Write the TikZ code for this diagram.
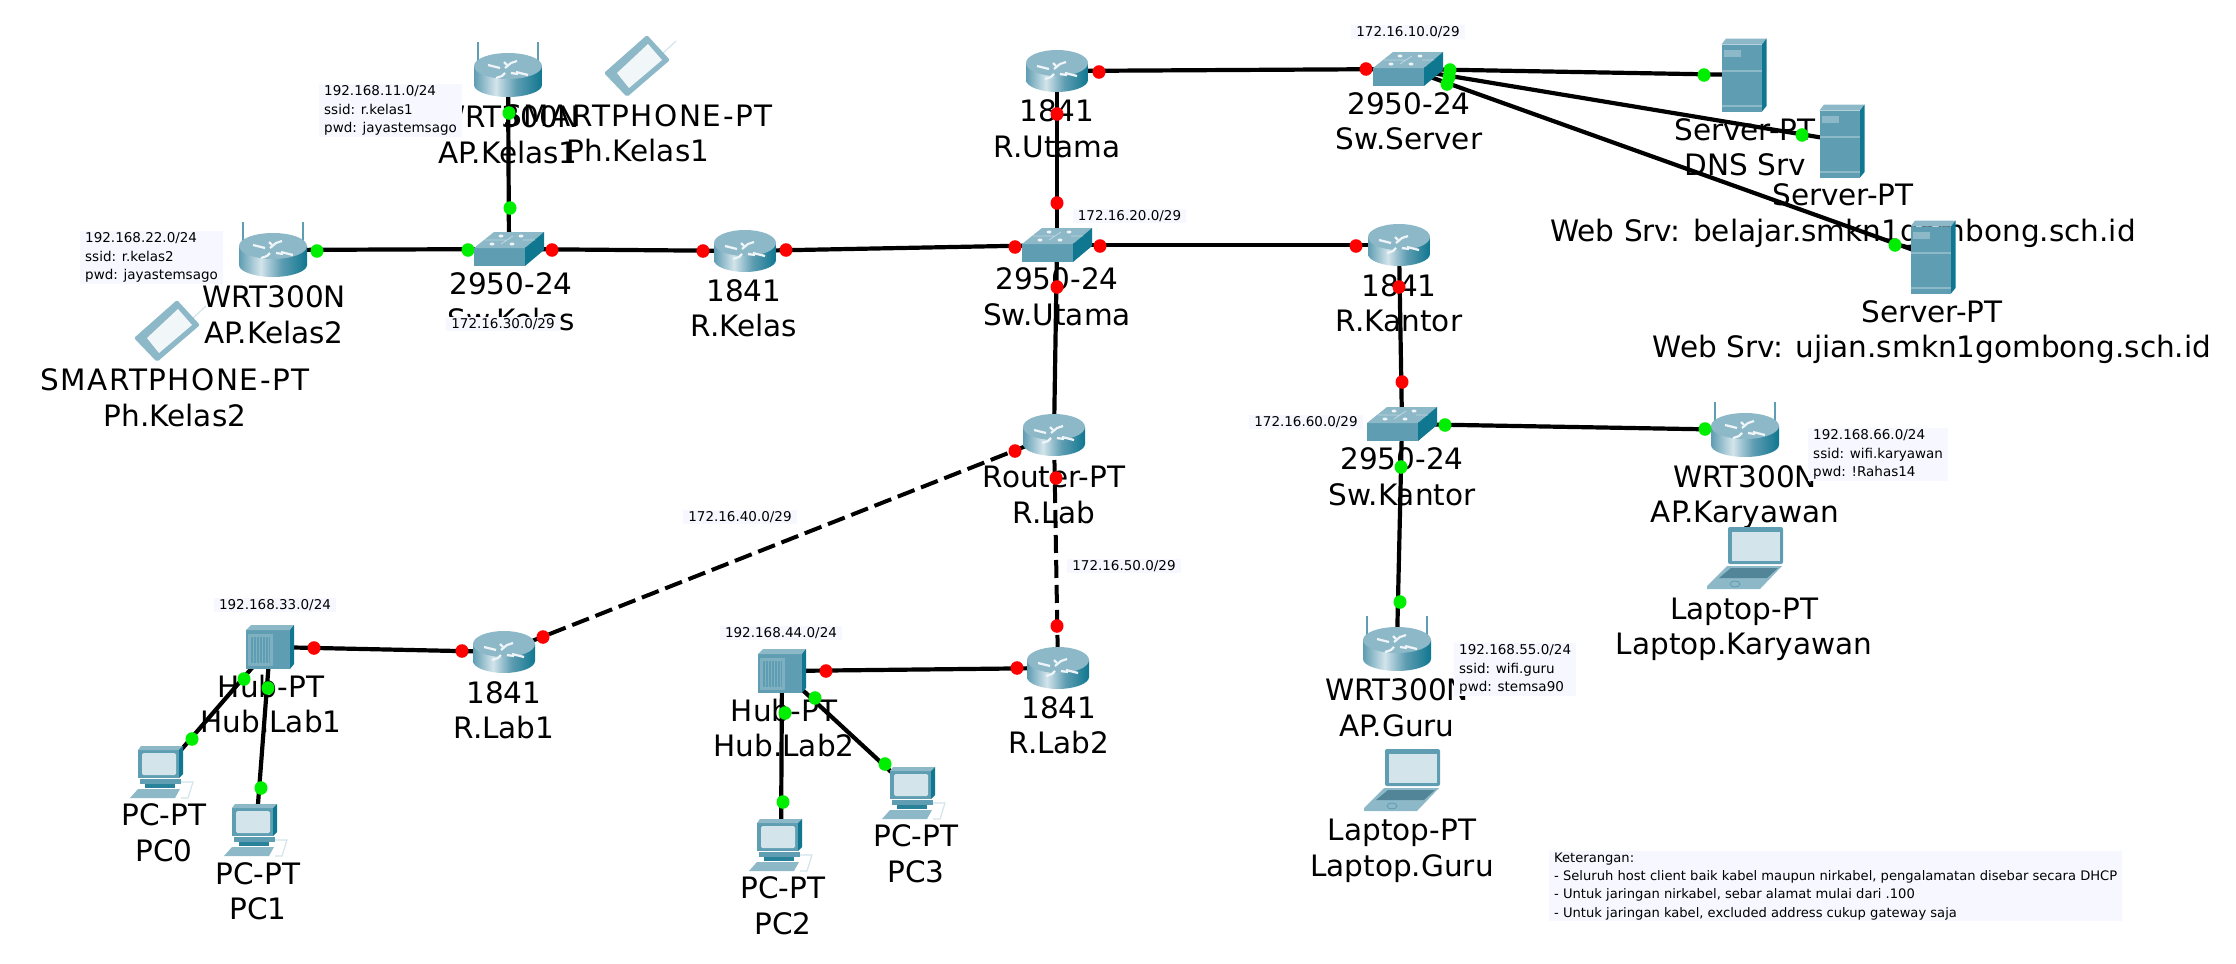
\documentclass[tikz,border=0pt]{standalone}
\usepackage{fontspec}
\setmainfont{DejaVu Sans}
\usetikzlibrary{backgrounds}
\definecolor{ikonAtas}{HTML}{8DB8C8}
\definecolor{ikonMuka}{HTML}{5F9DB2}
\definecolor{ikonSisi}{HTML}{0F7790}
\definecolor{ikonPucat}{HTML}{D3E4EB}
\definecolor{ikonPanel}{HTML}{7FB0C2}
\definecolor{latarCatatan}{HTML}{F7F8FF}
\definecolor{portHijau}{HTML}{00EE00}
\pgfdeclarehorizontalshading{badanRuter}{100bp}{color(0bp)=(ikonMuka); color(25bp)=(ikonMuka);
  color(41bp)=(ikonPucat); color(56bp)=(ikonMuka); color(75bp)=(ikonSisi); color(100bp)=(ikonSisi)}

% #1 half width, #2 y of the top ellipse, #3 y of the bottom ellipse
\newcommand{\gbrRuter}[3]{%
  \shade[shading=badanRuter] (-#1,#2) -- (-#1,#3) .. controls (-#1,#3+7) and (-#1/2,#3+12) .. (0,#3+12)
    .. controls (#1/2,#3+12) and (#1,#3+7) .. (#1,#3) -- (#1,#2) -- cycle;
  \fill[ikonAtas] (0,#2) ellipse [x radius=#1, y radius=13];
  \begin{scope}[shift={(0,#2)}, draw=white!85!ikonAtas, line width=2.2pt]
    \draw (-20,-5) -- (-8,-2) (-3,-2) -- (3,-7) -- (9,-9);
    \draw (20,5) -- (8,2) (-3,3) -- (-6,6) -- (-12,8);
    \draw (-4,-8) -- (-1,-5) (3,3) -- (10,4);
  \end{scope}
}
\newcommand{\gbrSakelar}{%
  \fill[ikonMuka] (-35,-1) rectangle (16,17);
  \fill[ikonAtas] (-35,-1) -- (-15,-17) -- (35,-17) -- (16,-1) -- cycle;
  \fill[ikonSisi] (16,-1) -- (35,-17) -- (35,1) -- (16,17) -- cycle;
  \foreach \u/\v in {-17/-5,-8/-13,12/-13,3/-5}
    \fill[white!85!ikonAtas] (\u,\v) ellipse [x radius=2.5, y radius=1.5];
  \draw[ikonPucat!70!ikonAtas, line width=.8pt] (-24,-9) -- (-3,-9) (-8,-5) -- (4,-13) (14,-9) -- (26,-9);
}
\newcommand{\gbrHub}{%
  \fill[ikonMuka] (-24,-17) rectangle (20,22);
  \fill[ikonAtas] (-24,-17) -- (-19,-22) -- (24,-22) -- (20,-17) -- cycle;
  \fill[ikonSisi] (20,-17) -- (24,-22) -- (24,17) -- (20,22) -- cycle;
  \fill[ikonPanel] (-22,-13) rectangle (3,19);
  \fill[ikonMuka] (-19,-10) rectangle (0,16);
  \foreach \u in {-17,-14,...,-2}
    \draw[ikonPanel, line width=1pt] (\u,-10) -- (\u,16);
}
\newcommand{\gbrPeladen}{%
  \fill[ikonMuka] (-22.5,-30.5) rectangle (18,36.5);
  \fill[ikonAtas] (-22.5,-30.5) -- (-18,-36.5) -- (22.5,-36.5) -- (18,-30.5) -- cycle;
  \fill[ikonSisi] (18,-30.5) -- (22.5,-36.5) -- (22.5,31) -- (18,36.5) -- cycle;
  \fill[ikonAtas] (-20,-25) rectangle (-3,-18);
  \draw[ikonAtas, line width=1.5pt] (-22.5,-4) -- (18,-4) (-22.5,31) -- (18,31);
}
\newcommand{\gbrPC}{%
  \fill[ikonMuka] (-24,-22) rectangle (17,6);
  \fill[ikonAtas] (-24,-22) -- (-21,-26) -- (21,-26) -- (17,-22) -- cycle;
  \fill[ikonSisi] (17,-22) -- (21,-26) -- (21,2) -- (17,6) -- cycle;
  \fill[ikonPucat, rounded corners=1.5pt] (-20,-19) rectangle (14,3);
  \fill[ikonMuka] (-22,7) rectangle (19,12);
  \fill[ikonAtas] (-32,26) -- (-24,17) -- (18,17) -- (13,26) -- cycle;
  \fill[ikonSisi!70!ikonMuka] (-17,12) rectangle (13,16);
  \draw[ikonPucat, line width=1.2pt] (19,10) -- (31,10) -- (26,26) -- (19,26);
}
\newcommand{\gbrLaptop}{%
  \fill[ikonMuka, rounded corners=2pt] (-17,-31) rectangle (38,6);
  \fill[ikonPucat] (-13,-26) rectangle (35,3);
  \fill[ikonAtas] (-38,28) -- (-18,8) -- (37,8) -- (15,31) -- (-38,31) -- cycle;
  \fill[ikonMuka!85!black] (-14,10) -- (33,10) -- (22,20) -- (-26,20) -- cycle;
  \draw[ikonMuka, line width=.8pt] (-10,26) ellipse [x radius=5, y radius=3];
}
\newcommand{\gbrPonsel}{%
  \draw[ikonPucat, line width=1.2pt] (20,-12) -- (34,-25);
  \fill[ikonAtas, rounded corners=2pt] (-38,7) -- (5,-31) -- (28,-6) -- (-15,31) -- cycle;
  \fill[white!88!ikonAtas] (-25,7) -- (6,-22) -- (20,-6) -- (-13,22) -- cycle;
}

\begin{document}
\begin{tikzpicture}[x=1pt, y=-1pt,
    ruter/.style={minimum width=63pt, minimum height=44pt, inner sep=0pt,
                  path picture={\begin{scope}[shift={(path picture bounding box.center)}]\gbrRuter{31}{-8}{9}\end{scope}}},
    ruterwifi/.style={minimum width=69pt, minimum height=57pt, inner sep=0pt,
                  path picture={\begin{scope}[shift={(path picture bounding box.center)}]
                    \draw[ikonMuka, line width=2.4pt] (-30,-28) -- (-30,-6) (30,-28) -- (30,-6);
                    \gbrRuter{34}{-4}{15}\end{scope}}},
    sakelar/.style={minimum width=70pt, minimum height=34pt, inner sep=0pt,
                  path picture={\begin{scope}[shift={(path picture bounding box.center)}]\gbrSakelar\end{scope}}},
    hubkotak/.style={minimum width=48pt, minimum height=44pt, inner sep=0pt,
                  path picture={\begin{scope}[shift={(path picture bounding box.center)}]\gbrHub\end{scope}}},
    peladen/.style={minimum width=46pt, minimum height=73pt, inner sep=0pt,
                  path picture={\begin{scope}[shift={(path picture bounding box.center)}]\gbrPeladen\end{scope}}},
    komputer/.style={minimum width=64pt, minimum height=52pt, inner sep=0pt,
                  path picture={\begin{scope}[shift={(path picture bounding box.center)}]\gbrPC\end{scope}}},
    laptop/.style={minimum width=77pt, minimum height=63pt, inner sep=0pt,
                  path picture={\begin{scope}[shift={(path picture bounding box.center)}]\gbrLaptop\end{scope}}},
    ponsel/.style={minimum width=76pt, minimum height=62pt, inner sep=0pt,
                  path picture={\begin{scope}[shift={(path picture bounding box.center)}]\gbrPonsel\end{scope}}},
    etiket/.style={font=\fontsize{29.5}{35.5}\selectfont, align=center, inner sep=0pt, yshift=-4pt},
    catatan/.style={fill=latarCatatan, font=\fontsize{13.5}{18.3}\selectfont, align=left,
                    inner xsep=5pt, inner ysep=1.5pt},
    kabel/.style={line width=4.2pt, draw=black},
    kabelputus/.style={line width=4pt, draw=black, dash pattern=on 18pt off 7pt}
  ]
  \useasboundingbox (0,0) rectangle (2236,964);

  % perangkat
  \node[ruterwifi] (apKelas1) at (508,70) {};
  \node[ruterwifi] (apKelas2) at (273,250) {};
  \node[ruterwifi] (apKaryawan) at (1745,430) {};
  \node[ruterwifi] (apGuru) at (1397,644) {};
  \node[ponsel] (phKelas1) at (642,66) {};
  \node[ponsel] (phKelas2) at (172,331) {};
  \node[sakelar] (swKelas) at (509,249) {};
  \node[sakelar] (swUtama) at (1057,245) {};
  \node[sakelar] (swServer) at (1408,69) {};
  \node[sakelar] (swKantor) at (1402,424) {};
  \node[ruter] (rKelas) at (745,251) {};
  \node[ruter] (rUtama) at (1057,71) {};
  \node[ruter] (rKantor) at (1399,245) {};
  \node[ruter] (rLab) at (1054,435) {};
  \node[ruter] (rLab1) at (504,652) {};
  \node[ruter] (rLab2) at (1058,668) {};
  \node[hubkotak] (hubLab1) at (270,647) {};
  \node[hubkotak] (hubLab2) at (782,671) {};
  \node[peladen] (srvDns) at (1744,75) {};
  \node[peladen] (srvBelajar) at (1842,141) {};
  \node[peladen] (srvUjian) at (1933,257) {};
  \node[komputer] (pc0) at (162,772) {};
  \node[komputer] (pc1) at (256,830) {};
  \node[komputer] (pc2) at (781,845) {};
  \node[komputer] (pc3) at (914,793) {};
  \node[laptop] (lapKaryawan) at (1745,558) {};
  \node[laptop] (lapGuru) at (1402,780) {};

  \begin{scope}[on background layer]
    % nama perangkat
    \node[etiket] (lblApKelas1) at (508,134.5) {\strut WRT300N\\\strut AP.Kelas1};
    \node[etiket] (lblPhKelas1) at (638,133) {{\addfontfeature{LetterSpace=5}\strut SMARTPHONE-PT}\\\strut Ph.Kelas1};
    \node[etiket] (lblApKelas2) at (274,314.5) {\strut WRT300N\\\strut AP.Kelas2};
    \node[etiket] (lblPhKelas2) at (175,397.5) {{\addfontfeature{LetterSpace=5}\strut SMARTPHONE-PT}\\\strut Ph.Kelas2};
    \node[etiket] (lblSwKelas) at (511,301.5) {\strut 2950-24\\\strut Sw.Kelas};
    \node[etiket] (lblRKelas) at (744,308) {\strut 1841\\\strut R.Kelas};
    \node[etiket] (lblRUtama) at (1057,128.5) {\strut 1841\\\strut R.Utama};
    \node[etiket] (lblSwServer) at (1409,121) {\strut 2950-24\\\strut Sw.Server};
    \node[etiket] (lblSwUtama) at (1057,296.5) {\strut 2950-24\\\strut Sw.Utama};
    \node[etiket] (lblRKantor) at (1399,303) {\strut 1841\\\strut R.Kantor};
    \node[etiket] (lblSrvDns) at (1745,147) {\strut Server-PT\\\strut DNS Srv};
    \node[etiket] (lblSrvBelajar) at (1843,212.5) {\strut Server-PT\\\strut Web Srv: belajar.smkn1gombong.sch.id};
    \node[etiket] (lblSrvUjian) at (1932,329) {\strut Server-PT\\\strut Web Srv: ujian.smkn1gombong.sch.id};
    \node[etiket] (lblRLab) at (1054,494.5) {\strut Router-PT\\\strut R.Lab};
    \node[etiket] (lblRLab1) at (504,710) {\strut 1841\\\strut R.Lab1};
    \node[etiket] (lblRLab2) at (1059,725) {\strut 1841\\\strut R.Lab2};
    \node[etiket] (lblHubLab1) at (271,704) {\strut Hub-PT\\\strut Hub.Lab1};
    \node[etiket] (lblHubLab2) at (784,728) {\strut Hub-PT\\\strut Hub.Lab2};
    \node[etiket] (lblPc0) at (164,832.5) {\strut PC-PT\\\strut PC0};
    \node[etiket] (lblPc1) at (258,891) {\strut PC-PT\\\strut PC1};
    \node[etiket] (lblPc2) at (783,905.5) {\strut PC-PT\\\strut PC2};
    \node[etiket] (lblPc3) at (916,853.5) {\strut PC-PT\\\strut PC3};
    \node[etiket] (lblSwKantor) at (1402,476.5) {\strut 2950-24\\\strut Sw.Kantor};
    \node[etiket] (lblApKaryawan) at (1745,494) {\strut WRT300N\\\strut AP.Karyawan};
    \node[etiket] (lblLapKaryawan) at (1744,626) {\strut Laptop-PT\\\strut Laptop.Karyawan};
    \node[etiket] (lblApGuru) at (1397,707.5) {\strut WRT300N\\\strut AP.Guru};
    \node[etiket] (lblLapGuru) at (1402,847.5) {\strut Laptop-PT\\\strut Laptop.Guru};

    % kabel
    \draw[kabel] (apKelas1.center) -- (swKelas.center);
    \draw[kabel] (apKelas2.center) -- (swKelas.center);
    \draw[kabel] (swKelas.center) -- (rKelas.center);
    \draw[kabel] (rKelas.center) -- (swUtama.center);
    \draw[kabel] (rUtama.center) -- (swUtama.center);
    \draw[kabel] (rUtama.center) -- (swServer.center);
    \draw[kabel] (swServer.center) -- (srvDns.center);
    \draw[kabel] (swServer.center) -- (srvBelajar.center);
    \draw[kabel] (swServer.center) -- (srvUjian.center);
    \draw[kabel] (swUtama.center) -- (rKantor.center);
    \draw[kabel] (swUtama.center) -- (rLab.center);
    \draw[kabel] (rKantor.center) -- (swKantor.center);
    \draw[kabel] (swKantor.center) -- (apKaryawan.center);
    \draw[kabel] (swKantor.center) -- (apGuru.center);
    \draw[kabelputus] (rLab.center) -- (rLab1.center);
    \draw[kabelputus] (rLab.center) -- (rLab2.center);
    \draw[kabel] (hubLab1.center) -- (rLab1.center);
    \draw[kabel] (hubLab2.center) -- (rLab2.center);
    \draw[kabel] (hubLab1.center) -- (pc0.center);
    \draw[kabel] (hubLab1.center) -- (pc1.center);
    \draw[kabel] (hubLab2.center) -- (pc2.center);
    \draw[kabel] (hubLab2.center) -- (pc3.center);

    % lampu port
    \foreach \x/\y in {1099/72,1057/114,1057/203,1366/69,552/250,703/251,786/250,1015/247,1100/246,1356/246,
                       1057/287,1399/287,1402/382,1056/478,1015/451,543/637,462/651,314/648,1057/626,1017/668,826/671}
      \fill[red] (\x,\y) ellipse [x radius=6.5, y radius=6.8];
    \foreach \x/\y in {509/113,510/208,317/251,468/250,1450/70,1449/77,1447/84,1704/75,1802/135,1895/245,
                       1445/425,1705/429,1401/467,1400/602,244/679,268/688,192/739,261/788,815/698,785/713,783/802,885/764}
      \fill[portHijau] (\x,\y) ellipse [x radius=6.5, y radius=6.8];
  \end{scope}

  % catatan jaringan
  \node[catatan, anchor=north west] (net11) at (319,84) {192.168.11.0/24\\ssid: r.kelas1\\pwd: jayastemsago};
  \node[catatan, anchor=north west] (net22) at (80,231) {192.168.22.0/24\\ssid: r.kelas2\\pwd: jayastemsago};
  \node[catatan, anchor=north west] (net55) at (1454,643) {192.168.55.0/24\\ssid: wifi.guru\\pwd: stemsa90};
  \node[catatan, anchor=north west] (net66) at (1808,428) {192.168.66.0/24\\ssid: wifi.karyawan\\pwd: !Rahas14};
  \node[catatan] (net10) at (1408,32) {172.16.10.0/29};
  \node[catatan] (net20) at (1129.5,216) {172.16.20.0/29};
  \node[catatan] (net30) at (503,324) {172.16.30.0/29};
  \node[catatan] (net40) at (740,517) {172.16.40.0/29};
  \node[catatan] (net50) at (1124,566) {172.16.50.0/29};
  \node[catatan] (net60) at (1306,422) {172.16.60.0/29};
  \node[catatan] (net33) at (275,605) {192.168.33.0/24};
  \node[catatan] (net44) at (781,633) {192.168.44.0/24};
  \node[catatan, anchor=north west, font=\fontsize{13.1}{18.3}\selectfont] (keterangan) at (1549,851) {Keterangan:\\
    - Seluruh host client baik kabel maupun nirkabel, pengalamatan disebar secara DHCP\\
    - Untuk jaringan nirkabel, sebar alamat mulai dari .100\\
    - Untuk jaringan kabel, excluded address cukup gateway saja};
\end{tikzpicture}
\end{document}
